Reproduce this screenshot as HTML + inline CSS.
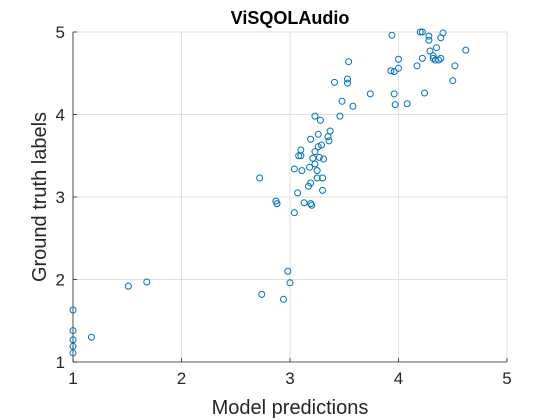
<!DOCTYPE html>
<html><head><meta charset="utf-8"><style>
body{margin:0;background:#fff;}
svg{display:block;font-family:"Liberation Sans",Arial,sans-serif;}
</style></head><body>
<svg id="chart" width="560" height="420">
<rect width="560" height="420" fill="#fff"/>
<g id="grid"></g>
<g id="axes"></g>
<g id="points"></g>
<text x="290" y="24" text-anchor="middle" font-size="18" font-weight="bold">ViSQOLAudio</text>
<text x="290" y="414" text-anchor="middle" font-size="20" fill="#262626">Model predictions</text>
<text transform="translate(46,197) rotate(-90)" text-anchor="middle" font-size="20" fill="#262626">Ground truth labels</text>
</svg>
<script>
const xTicks=[1,2,3,4,5];
const yTicks=[1,2,3,4,5];
const predictions=[3.48,3.58,3.23,3.28,3.46,3.37,3.26,3.19,3.35,3.36,3.29,3.26,3.10,3.23,3.08,3.10,3.21,3.27,3.31,3.23,3.18,3.04,3.11,3.25,2.72,3.30,3.25,3.19,3.17,3.30,3.07,2.87,2.88,3.13,3.19,3.20,3.04,2.98,3.00,2.74,2.94,3.94,4.20,4.22,4.28,4.28,4.41,4.39,4.35,4.29,4.62,4.00,4.22,4.32,4.32,4.34,4.37,4.39,3.93,3.96,4.00,4.17,4.52,4.50,3.74,3.96,3.97,4.08,4.24,3.54,3.41,3.53,3.53,1.00,1.00,1.00,1.00,1.00,1.17,1.51,1.68];
const labels=[4.16,4.10,3.98,3.93,3.98,3.80,3.76,3.70,3.73,3.68,3.63,3.61,3.57,3.55,3.50,3.50,3.47,3.48,3.46,3.40,3.36,3.34,3.32,3.32,3.23,3.23,3.23,3.17,3.13,3.08,3.05,2.95,2.92,2.93,2.92,2.90,2.81,2.10,1.96,1.82,1.76,4.96,5.00,5.00,4.95,4.90,4.99,4.93,4.81,4.77,4.78,4.67,4.68,4.71,4.68,4.66,4.66,4.68,4.53,4.52,4.56,4.59,4.59,4.41,4.25,4.25,4.12,4.13,4.26,4.64,4.39,4.43,4.38,1.63,1.38,1.27,1.19,1.11,1.30,1.92,1.97];
const L=73,R=507,T=32,B=362;
const sx=v=>L+(v-1)/4*(R-L);
const sy=v=>B-(v-1)/4*(B-T);
const NS='http://www.w3.org/2000/svg';
function mk(tag,attrs,parent){const e=document.createElementNS(NS,tag);for(const k in attrs)e.setAttribute(k,attrs[k]);parent.appendChild(e);return e;}
const grid=document.getElementById('grid'),axes=document.getElementById('axes'),pts=document.getElementById('points');
xTicks.forEach(t=>{
  const g=mk('line',{x1:sx(t),x2:sx(t),y1:T,y2:B,stroke:'#dfdfdf','stroke-width':1},grid);
  
  
  const tk=mk('line',{x1:sx(t),x2:sx(t),y1:B,y2:B-4,stroke:'#262626','stroke-width':0.8},axes);
  
  
  const lb=mk('text',{x:sx(t),y:B+22,'text-anchor':'middle','font-size':17,fill:'#262626'},axes);
  lb.textContent=t;
  
  
});
yTicks.forEach(t=>{
  const g=mk('line',{x1:L,x2:R,y1:sy(t),y2:sy(t),stroke:'#dfdfdf','stroke-width':1},grid);
  
  
  const tk=mk('line',{x1:L,x2:L+4,y1:sy(t),y2:sy(t),stroke:'#262626','stroke-width':0.8},axes);
  
  
  const lb=mk('text',{x:L-8,y:sy(t)+6,'text-anchor':'end','font-size':17,fill:'#262626'},axes);
  lb.textContent=t;
  
  
});
const xa=mk('line',{x1:L,x2:R,y1:B,y2:B,stroke:'#262626','stroke-width':0.8},axes);


const ya=mk('line',{x1:L,x2:L,y1:T,y2:B,stroke:'#262626','stroke-width':0.8},axes);


predictions.forEach((p,i)=>{
  const c=mk('circle',{cx:sx(p),cy:sy(labels[i]),r:3,fill:'none',stroke:'#0072BD','stroke-width':1},pts);
  
  
});
</script>
</body></html>
